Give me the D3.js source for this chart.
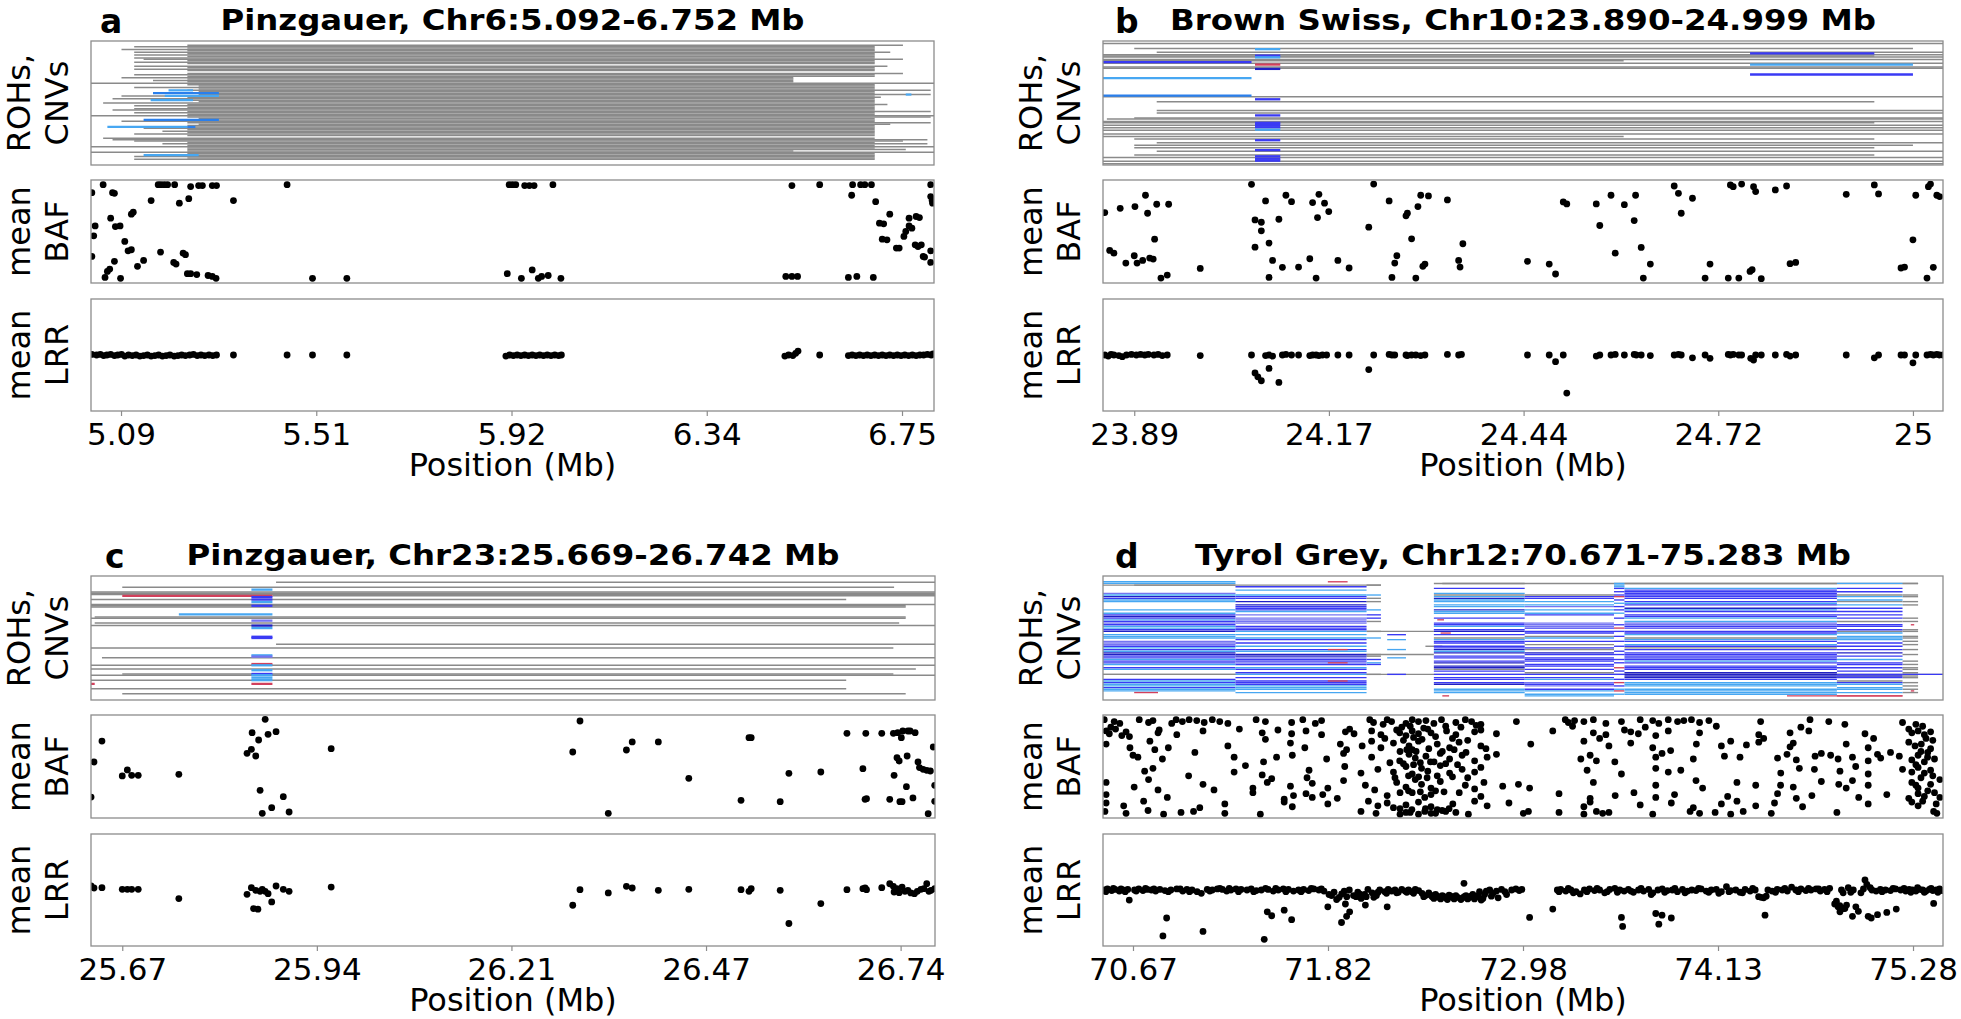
<!DOCTYPE html>
<html><head><meta charset="utf-8">
<script src="https://cdn.jsdelivr.net/npm/d3@7"></script>
<style>body{margin:0;background:#fff}svg{display:block}text{font-family:"DejaVu Sans",sans-serif}</style>
</head><body><svg id="c" width="1961" height="1019"></svg>
<script>
// ---------------- DATA ----------------
const panelLetters = ["a","b","c","d"];
const panelTitles = ["Pinzgauer, Chr6:5.092-6.752 Mb","Brown Swiss, Chr10:23.890-24.999 Mb","Pinzgauer, Chr23:25.669-26.742 Mb","Tyrol Grey, Chr12:70.671-75.283 Mb"];
const xDomainA = [5.0282, 6.8200], xDomainB = [23.8455, 25.0418], xDomainC = [25.6259, 26.7894], xDomainD = [70.4937, 75.4603];
const ticksA = [5.092,5.507,5.922,6.337,6.752], tickLabelsA = ["5.09","5.51","5.92","6.34","6.75"];
const ticksB = [23.890,24.16725,24.4445,24.72175,24.999], tickLabelsB = ["23.89","24.17","24.44","24.72","25"];
const ticksC = [25.669,25.93725,26.2055,26.47375,26.742], tickLabelsC = ["25.67","25.94","26.21","26.47","26.74"];
const ticksD = [70.671,71.824,72.977,74.130,75.283], tickLabelsD = ["70.67","71.82","72.98","74.13","75.28"];
const rowCounts = [88,100,100,75];

// ROH (gray) segments: [row, start, end]; CNV segments: [row, start, end, type]
const rohA = [[3,5.233,6.754],[4,5.120,6.694],[5,5.233,6.694],[6,5.093,6.694],[7,5.233,6.694],[8,5.120,6.727],[9,5.233,6.694],[10,5.120,6.694],[11,5.233,6.694],[12,5.120,6.694],[13,5.140,6.754],[14,5.233,6.694],[15,5.120,6.694],[16,5.233,6.694],
[18,5.120,6.721],[19,5.233,6.694],[20,5.120,6.694],[21,5.233,6.694],[23,5.233,6.754],[24,5.120,6.694],[25,5.233,6.694],[26,5.093,6.521],[27,5.233,6.521],[28,5.160,6.521],[29,5.233,6.521],[30,4.9,7.0],
[31,5.233,6.694],[32,5.257,6.694],[33,5.120,6.694],[34,5.257,6.694],[35,5.233,6.813],[36,5.257,6.694],[37,5.233,6.694],[38,5.257,6.813],[39,5.093,6.694],[40,5.233,6.707],[41,5.074,6.694],[42,5.233,6.694],[43,5.257,6.694],[44,5.054,6.694],[45,5.233,6.721],[46,5.120,6.694],[47,5.233,6.694],[48,5.120,6.694],[49,5.074,6.694],[50,5.233,6.813],[51,5.120,6.694],[52,5.233,6.694],[53,4.9,7.0],
[54,5.233,6.813],[55,5.257,6.694],[56,5.233,6.694],[57,5.093,6.694],[58,5.233,6.813],[59,5.257,6.727],[60,5.233,6.694],[61,5.233,6.694],[62,5.140,6.694],[63,5.233,6.694],[64,5.180,6.694],[65,5.233,6.694],[66,5.120,6.694],[67,5.233,6.694],
[69,5.054,6.694],[70,5.074,6.806],[71,5.120,6.754],[72,5.233,6.694],[73,5.180,6.806],[74,5.233,6.694],[75,4.9,7.0],[76,5.233,6.694],[77,5.233,6.760],[78,5.233,6.521],[79,4.9,7.0],[80,5.233,6.694],[81,5.233,6.694],[82,5.120,6.694],[83,5.233,6.694],[84,5.120,6.694]];
const cnvA = [[35,5.193,5.245,"l"],[37,5.160,5.300,"s"],[39,5.185,5.300,"l"],[42,5.155,5.245,"l"],[56,5.140,5.300,"s"],[61,5.063,5.233,"l"],[61,5.233,5.250,"s"],[81,5.140,5.257,"l"],[38,6.760,6.772,"l"]];

const rohB = [[2,23.7,25.2],[6,23.890,24.999],[9,23.922,25.2],[11,23.7,25.2],[12,23.7,24.944],[13,23.7,25.2],[15,23.7,25.2],[16,23.7,24.587],[18,23.7,25.2],[21,23.7,25.2],[22,23.7,25.2],[45,23.7,25.2],[49,23.922,24.944],[56,23.922,25.2],[58,23.922,25.2],[62,23.890,25.2],[63,23.851,25.2],[65,23.7,25.2],[66,23.7,24.944],[68,23.7,25.2],[70,23.7,25.2],[72,23.7,25.2],[75,23.7,25.2],[77,23.7,24.587],[79,23.890,24.944],[82,23.922,25.2],[84,23.890,24.999],[86,23.890,24.944],[89,23.922,25.2],[92,23.890,24.944],[94,23.7,25.2],[97,23.7,25.2],[99,23.7,25.2]];
const cnvB = [[6.6,24.062,24.098,"l"],[10,24.767,24.944,"b"],[11.8,24.062,24.098,"b"],[13.2,24.062,24.098,"l"],[17,23.7,24.057,"b"],[19,24.062,24.098,"r"],[19,24.767,24.999,"l"],[22.5,24.062,24.098,"d"],[27,24.767,24.999,"b"],[30,23.7,24.057,"l"],[44,23.7,24.057,"s"],[47,24.062,24.098,"b"],[60,24.062,24.098,"b"],[66,24.062,24.098,"b"],[67.6,24.062,24.098,"b"],[69.5,24.062,24.098,"b"],[71.5,24.062,24.098,"l"],[80,24.062,24.098,"b"],[88,24.062,24.098,"b"],[93,24.062,24.098,"b"],[95,24.062,24.098,"b"],[96.5,24.062,24.098,"b"]];

const rohC = [[5,25.881,26.9],[9,25.669,26.733],[13,25.5,26.9],[14,25.5,26.9],[15,25.5,26.9],[16,25.876,26.9],[19,25.5,26.667],[23,25.5,26.9],[24,25.5,26.749],[25,25.5,26.749],[33,25.631,26.749],[34,25.5,26.749],[38,25.631,26.740],[40,25.5,26.9],[55,25.881,26.9],[58,25.5,26.732],[66,25.641,26.9],[72,25.5,26.9],[75,25.5,26.763],[79,25.669,26.732],[80,25.5,26.9],[84,25.5,26.667],[91,25.5,26.667],[95,25.669,26.749]];
const cnvC = [[11,25.847,25.876,"l"],[16,25.669,25.876,"r"],[17,25.847,25.876,"b"],[19,25.847,25.876,"b"],[21,25.847,25.876,"l"],[24,25.847,25.876,"b"],[31,25.747,25.876,"l"],[36,25.847,25.876,"m"],[40,25.847,25.876,"d"],[42,25.847,25.876,"l"],[49,25.847,25.876,"b"],[50,25.847,25.876,"b"],[64,25.847,25.876,"l"],[65,25.847,25.876,"m"],[71,25.847,25.876,"r"],[72,25.847,25.876,"l"],[76,25.847,25.876,"l"],[79,25.847,25.876,"b"],[80,25.847,25.876,"l"],[82,25.847,25.876,"l"],[84,25.847,25.876,"l"],[87,25.847,25.876,"r"],[87,25.5,25.631,"r"]];

// Panel d: segment boundaries and one code string per segment (one char per sample row)
const dRegions = [[70.45,71.277],[71.277,72.052],[72.052,72.137],[72.174,72.285],[72.45,72.987],[72.987,73.515],[73.515,73.577],[73.577,74.833],[74.833,75.221],[75.221,75.313]];
const dRowCodes = [
"...llg....mldbll....l.lbdblbmbllbd.lll.mmmblblddbblbbl.bl..g..blbllbll....",
"......b.l..lbb.d.dbbbl.m.mmmm.bbbl.l.lb.b.l.bl.ddmbbmb.lb.bl.b.bbblll.l....",
".....g.....l.g.g....l..b.b.g.....g...l.........gg.b.lb.....g...............",
"...................................b..l.....l....l.........b...............",
"....g..b..lgldll.ll.dll..b..bbl.bd.b.glbb.bbdld.bb.bd.ddgb.b.bb.bd..lll....",
"...........gbb.l.lm.l.lb....mmmb.bb.gl.b.g.bg.db.bbb.bb.b.gb.bl.mbm.bl.ll...",
"....lllb.b.br.b.l.b.b.l..b...b.r.b..b..b..b..b.b..b.b..r.b.b..b.r.b.lr.l...",
"....g..lbbbbbb.blb.dlb.bbl.lmmbb.bbl.glb.lbgb.bbbbblb.bbb.ddddb.lll.llll...",
"....l..b.b.gl.lg.l.b.b.b.b.g.bb.bgl.lll.b.b.b.d.b.l.bb.b.b.bdb.gbl.ll.l.r..",
"....g......gg..g.g.......g.g....gg..gg.g.g..g..g...g.g.gg.gggg..g.g.g.g....."];
const dExtraSegs = [[4,72.50,75.313,"g"],[5,70.678,72.137,"g"],[33,72.052,72.45,"g"],[42,72.40,72.50,"g"],[47,72.052,72.45,"g"],[59,70.3,75.6,"g"],[59,75.221,75.6,"b"],
[3,71.823,71.94,"r"],[44,71.823,71.94,"r"],[52,71.823,71.94,"r"],[63,71.823,71.94,"r"],[70,70.678,70.819,"r"],[72,74.538,75.221,"r"],[26,72.47,72.51,"r"],[34,72.49,72.55,"r"],[72,72.50,72.54,"r"],[29,75.27,75.29,"r"],[69,75.27,75.29,"r"]];

// mean BAF points [position Mb, value]
const bafA = [[5.054,1],[5.171,1],[5.177,1],[5.184,1],[5.191,1],[5.206,1],[5.240,0.98],[5.257,0.99],[5.265,0.99],[5.286,0.99],[5.295,0.99],[5.445,1],[5.917,1],[5.924,1],[5.931,1],[5.950,0.99],[5.960,0.99],[5.970,0.99],[6.010,1],[6.518,0.99],[6.577,1],[6.647,1],[6.664,1],[6.673,1],[6.687,1],[6.813,1],
[5.030,0.915],[5.074,0.915],[5.078,0.908],[5.156,0.830],[5.216,0.802],[5.236,0.851],[5.331,0.830],[6.645,0.887],[6.696,0.819],[6.813,0.873],[6.816,0.830],[6.817,0.802],
[5.070,0.642],[5.114,0.685],[5.118,0.706],[5.037,0.560],[5.080,0.553],[5.090,0.560],[6.726,0.685],[6.767,0.642],[6.782,0.660],[6.789,0.649],[6.704,0.589],[6.713,0.582],[6.767,0.560],[6.773,0.536],[6.760,0.500],[5.034,0.454],[6.756,0.447],
[5.100,0.394],[5.107,0.294],[5.114,0.305],[6.710,0.418],[6.720,0.411],[6.740,0.323],[6.746,0.323],[6.780,0.358],[6.786,0.340],[6.793,0.358],[6.813,0.294],
[5.030,0.234],[5.176,0.280],[5.224,0.269],[5.229,0.252],[5.204,0.170],[5.209,0.152],[6.797,0.234],[6.800,0.227],[6.813,0.170],[5.078,0.181],[5.140,0.191],[5.127,0.128],[5.068,0.099],[5.063,0.074],
[5.058,0.01],[5.091,0],[5.233,0.05],[5.240,0.05],[5.253,0.04],[5.277,0.03],[5.286,0.02],[5.294,0],[5.499,0],[5.572,0],[5.913,0.05],[5.943,0],[5.966,0.09],[5.979,0],[5.986,0.02],[6.000,0.03],[6.027,0],[6.505,0.02],[6.518,0.02],[6.530,0.02],[6.638,0.01],[6.656,0.02],[6.691,0.01]];
const bafB = [[23.848,0.702],[23.870,0.748],[23.891,0.766],[23.906,0.887],[23.909,0.695],[23.922,0.791],[23.939,0.791],[23.855,0.298],[23.861,0.269],[23.878,0.163],[23.890,0.241],[23.894,0.163],[23.902,0.191],[23.912,0.216],[23.917,0.206],[23.919,0.418],[23.928,0.003],[23.937,0.035],[23.984,0.106],
[24.057,1.004],[24.077,0.826],[24.062,0.624],[24.071,0.599],[24.071,0.507],[24.096,0.631],[24.106,0.887],[24.114,0.819],[24.082,0.376],[24.062,0.333],[24.087,0.191],[24.101,0.117],[24.082,0.010],
[24.124,0.120],[24.140,0.209],[24.144,0.809],[24.151,0.649],[24.153,0.897],[24.161,0.802],[24.167,0.713],[24.149,0.003],[24.180,0.191],[24.196,0.110],
[24.224,0.546],[24.231,1.007],[24.253,0.826],[24.257,0.010],[24.261,0.163],[24.264,0.241],[24.277,0.667],[24.279,0.695],[24.285,0.422],[24.291,0.003],[24.294,0.766],[24.298,0.887],[24.301,0.128],[24.304,0.152],[24.309,0.880],[24.336,0.837],[24.352,0.191],[24.354,0.120],[24.358,0.369],
[24.450,0.181],[24.481,0.152],[24.490,0.046],[24.501,0.816],[24.506,0.794],[24.548,0.794],[24.553,0.564],[24.569,0.887],[24.575,0.269],[24.588,0.787],[24.602,0.617],[24.604,0.887],[24.612,0.330],[24.615,0.003],[24.625,0.152],
[24.659,0.986],[24.665,0.908],[24.669,0.695],[24.685,0.855],[24.703,0.003],[24.710,0.152],[24.736,0.003],[24.739,0.997],[24.743,0.979],[24.751,0.003],[24.755,1.007],[24.767,0.074],[24.770,0.092],[24.772,0.979],[24.775,0.926],[24.783,-0.004],[24.803,0.944],[24.819,0.986],[24.824,0.156],[24.832,0.170],
[24.904,0.897],[24.944,0.997],[24.950,0.901],[24.982,0.110],[24.987,0.120],[24.999,0.411],[25.003,0.887],[25.019,0.003],[25.021,0.979],[25.024,1.007],[25.028,0.117],[25.033,0.887],[25.037,0.873]];
const bafC = [[25.626,0.174],[25.630,0.548],[25.641,0.772],[25.669,0.399],[25.676,0.463],[25.682,0.406],[25.691,0.406],[25.747,0.416],
[25.841,0.641],[25.847,0.683],[25.848,0.861],[25.853,0.612],[25.857,0.783],[25.859,0.246],[25.862,0.000],[25.866,1.004],[25.870,0.844],[25.875,0.060],[25.881,0.872],[25.891,0.178],[25.899,0.014],[25.957,0.690],
[26.290,0.655],[26.300,0.986],[26.339,0.000],[26.364,0.676],[26.372,0.762],[26.408,0.762],[26.450,0.374],[26.522,0.139],[26.533,0.808],[26.536,0.808],[26.576,0.124],[26.588,0.427],[26.632,0.441],
[26.668,0.854],[26.690,0.477],[26.693,0.149],[26.695,0.156],[26.694,0.854],[26.716,0.854],[26.727,0.149],[26.732,0.854],[26.733,0.406],[26.737,0.594],[26.738,0.861],[26.740,0.559],[26.741,0.124],[26.744,0.124],[26.743,0.808],[26.745,0.879],[26.750,0.285],[26.751,0.612],[26.752,0.879],[26.755,0.879],[26.759,0.164],[26.762,0.861],[26.766,0.548],[26.768,0.488],[26.773,0.470],[26.778,0.459],[26.780,-0.004],[26.783,0.452],[26.787,0.708],[26.789,0.299],[26.789,0.128]];
const bafD = [
[70.501,1.0],[70.560,0.98],[70.593,0.96],[70.708,1.0],[70.763,0.97],[70.789,0.99],[70.900,0.96],[70.926,1.0],[70.963,0.98],[71.003,1.0],[71.048,0.99],[71.092,0.97],[71.140,1.0],[71.184,0.98],[71.232,0.96],[71.399,1.0],[71.454,0.98],[71.609,0.97],[71.675,1.0],[71.749,0.96],[71.786,0.99],[72.071,1.0],[72.093,0.97],[72.174,1.0],[72.200,0.98],[72.285,0.96],[72.322,1.0],[72.359,0.98],[72.403,0.99],[72.495,1.0],[72.580,0.97],[72.636,1.0],[72.673,0.98],[72.728,0.95],[72.938,0.98],[73.227,1.0],[73.245,0.97],[73.282,0.99],[73.337,0.98],[73.393,1.0],[73.467,0.96],[73.559,0.98],[73.670,1.0],[73.744,0.99],[73.780,0.96],[73.836,1.0],[73.891,0.98],[73.928,0.99],[73.973,1.0],[74.021,0.97],[74.076,0.99],[74.382,0.98],[74.674,1.0],[74.785,0.98],[75.221,0.97],
[70.512,0.88],[70.531,0.85],[70.568,0.90],[70.605,0.83],[70.630,0.87],[70.819,0.86],[70.826,0.89],[70.930,0.84],[71.085,0.88],[71.435,0.86],[71.528,0.89],[71.609,0.85],[71.694,0.88],[71.786,0.84],[71.927,0.87],[71.952,0.90],[71.978,0.85],[72.082,0.88],[72.137,0.84],[72.230,0.89],[72.248,0.86],[72.285,0.83],[72.322,0.88],[72.359,0.85],[72.414,0.90],[72.433,0.86],[72.525,0.88],[72.580,0.84],[72.691,0.87],[72.728,0.89],[72.820,0.85],[73.153,0.88],[73.393,0.86],[73.467,0.84],[73.577,0.89],[73.614,0.87],[73.659,0.85],[73.762,0.83],[73.836,0.88],[74.021,0.86],[74.371,0.84],[74.556,0.86],[74.667,0.88],[74.999,0.85],[75.258,0.90],[75.276,0.86],[75.313,0.88],[75.350,0.84],[75.387,0.87],
[70.512,0.74],[70.653,0.70],[70.771,0.77],[70.800,0.68],[71.232,0.72],[71.454,0.79],[71.602,0.75],[71.687,0.70],[71.897,0.74],[71.934,0.68],[72.026,0.72],[72.082,0.77],[72.137,0.70],[72.211,0.75],[72.303,0.72],[72.322,0.68],[72.359,0.77],[72.470,0.74],[72.543,0.70],[72.599,0.76],[72.728,0.72],[72.758,0.69],[73.023,0.74],[73.337,0.77],[73.485,0.72],[73.614,0.75],[73.744,0.70],[74.002,0.74],[74.150,0.72],[74.205,0.77],[74.298,0.73],[74.371,0.76],[74.556,0.71],[74.575,0.75],[74.888,0.74],[75.018,0.70],[75.258,0.76],[75.295,0.72],[75.332,0.74],[75.387,0.69],
[70.671,0.62],[70.845,0.58],[71.037,0.65],[71.269,0.60],[71.443,0.55],[71.613,0.62],[71.816,0.58],[71.916,0.64],[72.082,0.60],[72.248,0.56],[72.303,0.63],[72.340,0.59],[72.403,0.61],[72.451,0.55],[72.488,0.64],[72.543,0.58],[72.617,0.62],[72.691,0.56],[72.765,0.60],[72.820,0.63],[73.319,0.58],[73.374,0.62],[73.411,0.56],[73.762,0.60],[73.799,0.64],[73.984,0.58],[74.168,0.61],[74.482,0.59],[74.538,0.63],[74.593,0.57],[74.704,0.61],[74.741,0.64],[74.796,0.62],[74.840,0.58],[74.925,0.60],[75.018,0.56],[75.073,0.63],[75.092,0.59],[75.202,0.61],[75.276,0.57],[75.313,0.62],[75.369,0.60],
[70.789,0.48],[71.269,0.44],[71.336,0.51],[71.435,0.41],[71.712,0.46],[71.923,0.50],[72.019,0.43],[72.119,0.47],[72.211,0.44],[72.285,0.50],[72.322,0.42],[72.377,0.48],[72.414,0.45],[72.488,0.51],[72.543,0.43],[72.617,0.47],[72.691,0.44],[72.728,0.49],[73.356,0.46],[73.559,0.42],[73.762,0.48],[73.836,0.44],[73.910,0.46],[74.501,0.43],[74.611,0.48],[74.851,0.45],[74.944,0.50],[75.018,0.42],[75.221,0.47],[75.276,0.44],[75.313,0.49],[75.350,0.43],[75.387,0.46],
[70.512,0.33],[70.678,0.28],[70.763,0.36],[70.819,0.25],[71.085,0.31],[71.380,0.27],[71.465,0.33],[71.491,0.37],[71.602,0.29],[71.731,0.32],[71.823,0.27],[71.916,0.35],[72.045,0.30],[72.100,0.25],[72.230,0.33],[72.285,0.28],[72.340,0.36],[72.377,0.31],[72.433,0.27],[72.488,0.34],[72.636,0.30],[72.691,0.26],[72.746,0.33],[72.857,0.29],[72.950,0.31],[73.016,0.27],[73.393,0.33],[73.762,0.30],[74.039,0.27],[74.242,0.33],[74.353,0.30],[74.575,0.28],[74.741,0.34],[74.844,0.31],[74.888,0.27],[74.925,0.35],[75.018,0.30],[75.276,0.33],[75.313,0.27],[75.387,0.31],[75.442,0.36],
[70.512,0.20],[70.874,0.17],[71.380,0.22],[71.565,0.15],[71.620,0.19],[71.694,0.21],[71.731,0.17],[71.793,0.20],[71.879,0.16],[72.174,0.19],[72.322,0.22],[72.396,0.17],[72.433,0.20],[72.728,0.18],[73.190,0.21],[73.374,0.16],[73.522,0.19],[73.633,0.22],[73.762,0.17],[73.873,0.20],[74.187,0.18],[74.482,0.21],[74.593,0.16],[74.685,0.19],[74.962,0.17],[75.128,0.20],[75.258,0.16],[75.313,0.21],[75.350,0.18],[75.442,0.17],
[70.512,0.11],[70.616,0.08],[70.734,0.13],[71.066,0.06],[71.214,0.10],[71.565,0.12],[71.613,0.07],[71.823,0.10],[72.063,0.13],[72.119,0.08],[72.174,0.11],[72.211,0.06],[72.285,0.09],[72.359,0.12],[72.433,0.07],[72.562,0.10],[72.691,0.13],[72.765,0.08],[72.894,0.11],[73.337,0.07],[73.374,0.12],[73.670,0.09],[73.854,0.11],[73.984,0.06],[74.150,0.10],[74.242,0.13],[74.353,0.08],[74.464,0.11],[74.630,0.07],[75.018,0.10],[75.276,0.12],[75.313,0.08],
[70.505,0.02],[70.630,0.00],[70.760,0.03],[70.852,-0.01],[70.955,0.01],[71.029,0.02],[71.214,0.00],[71.424,-0.01],[72.019,0.02],[72.108,0.00],[72.285,0.01],[72.359,-0.01],[72.396,0.02],[72.433,0.00],[72.499,0.03],[72.580,0.01],[72.654,-0.01],[72.979,0.00],[73.009,0.02],[73.190,0.01],[73.337,-0.01],[73.411,0.02],[73.448,0.00],[73.485,0.01],[73.744,-0.01],[73.965,0.02],[74.021,0.00],[74.113,0.01],[74.205,-0.01],[74.279,0.02],[74.445,0.00],[74.833,0.01],[75.405,0.02],[75.424,0.00],
[72.150,0.95],[72.260,0.92],[72.310,0.93],[72.390,0.91],[72.450,0.96],[72.520,0.93],[72.610,0.92],[72.700,0.94],[72.160,0.80],[72.270,0.78],[72.330,0.81],[72.380,0.79],[72.460,0.82],[72.560,0.80],[72.650,0.78],[72.250,0.66],[72.290,0.68],[72.345,0.66],[72.420,0.69],[72.500,0.66],[72.570,0.68],[72.640,0.65],[72.190,0.54],[72.270,0.53],[72.330,0.52],[72.370,0.54],[72.430,0.55],[72.520,0.53],[72.590,0.52],[72.220,0.38],[72.300,0.40],[72.360,0.39],[72.410,0.38],[72.470,0.40],[72.560,0.39],[72.650,0.38],[72.250,0.22],[72.300,0.24],[72.370,0.23],[72.460,0.24],[72.510,0.23],[72.600,0.22],[72.250,0.05],[72.320,0.04],[72.400,0.05],[72.470,0.04],[72.540,0.05],[72.250,-0.01],[72.310,0.01],[72.460,0.00],[72.520,0.02],
[75.300,0.95],[75.340,0.93],[75.360,0.80],[75.400,0.78],[75.330,0.66],[75.370,0.65],[75.410,0.58],[75.300,0.52],[75.350,0.55],[75.400,0.40],[75.330,0.38],[75.370,0.24],[75.410,0.22],[75.300,0.30],[75.420,0.10],[75.340,0.13],
[70.540,0.92],[70.650,0.82],[70.700,0.60],[70.740,0.45],[70.880,0.70],[71.000,0.40],[71.150,0.25],[71.300,0.90],[71.520,0.60],[71.700,0.38],
[73.270,0.93],[73.430,0.80],[73.520,0.55],[73.700,0.92],[73.850,0.67],[74.000,0.35],[74.120,0.93],[74.260,0.60],[74.400,0.80],[74.500,0.30],[74.620,0.92],[74.700,0.47],[74.880,0.95],[75.050,0.80],[75.150,0.65]];

// mean LRR points [position Mb, value]
const lrrA = [[5.030,0.01],[5.040,0.0],[5.048,0.01],[5.055,-0.01],[5.062,0.0],[5.070,0.01],[5.078,-0.01],[5.085,0.0],[5.093,0.01],[5.100,-0.02],[5.108,0.0],[5.116,-0.01],[5.124,0.0],[5.132,-0.02],[5.140,-0.01],[5.148,0.0],[5.156,-0.02],[5.164,-0.01],[5.172,0.0],[5.180,-0.02],[5.188,-0.01],[5.196,0.0],[5.205,-0.02],[5.213,-0.01],[5.221,0.0],[5.229,-0.01],[5.238,0.0],[5.246,0.01],[5.254,-0.01],[5.262,0.0],[5.270,-0.01],[5.279,0.0],[5.287,-0.01],[5.295,0.0],[5.331,0.0],[5.445,0.0],[5.499,0.0],[5.572,0.0],
[5.910,-0.02],[5.918,0.0],[5.926,-0.01],[5.934,0.0],[5.942,-0.01],[5.950,0.0],[5.958,-0.01],[5.966,0.0],[5.974,-0.01],[5.982,0.0],[5.990,-0.01],[5.998,0.0],[6.006,-0.01],[6.014,0.0],[6.022,-0.01],[6.028,0.0],
[6.503,-0.02],[6.511,0.0],[6.520,-0.01],[6.526,0.03],[6.531,0.07],[6.577,0.0],
[6.638,-0.01],[6.646,0.0],[6.654,-0.01],[6.662,0.0],[6.670,-0.01],[6.678,0.0],[6.686,-0.01],[6.694,0.0],[6.702,-0.01],[6.710,0.0],[6.718,-0.01],[6.726,0.0],[6.734,-0.01],[6.742,0.0],[6.750,-0.01],[6.758,0.0],[6.766,-0.01],[6.774,0.0],[6.782,-0.01],[6.790,0.0],[6.798,0.0],[6.806,0.01],[6.814,0.0],[6.818,0.02]];
const lrrB = [[23.848,0.0],[23.853,-0.02],[23.857,0.01],[23.861,0.0],[23.868,-0.01],[23.873,-0.03],[23.879,0.0],[23.886,0.01],[23.893,0.0],[23.899,0.01],[23.905,0.0],[23.910,0.01],[23.918,0.0],[23.924,0.01],[23.930,-0.01],[23.937,0.0],[23.984,-0.01],[24.057,0.0],[24.077,-0.01],[24.082,0.0],[24.087,-0.02],[24.101,0.0],[24.106,0.01],[24.114,0.0],[24.124,0.0],[24.140,-0.01],[24.144,0.0],[24.149,0.0],[24.153,-0.01],[24.158,0.0],[24.164,0.0],[24.180,0.0],[24.196,0.0],[24.231,0.0],[24.253,0.01],[24.257,0.0],[24.261,0.0],[24.277,0.0],[24.279,-0.01],[24.285,0.0],[24.291,0.0],[24.298,-0.01],[24.304,0.0],[24.336,0.01],[24.352,0.0],[24.356,0.01],[24.450,0.0],[24.481,0.0],[24.490,-0.12],[24.501,0.0],[24.548,-0.02],[24.553,0.0],[24.569,0.0],[24.575,0.01],[24.588,0.0],[24.602,0.01],[24.605,0.0],[24.612,0.0],[24.625,-0.01],[24.659,0.0],[24.665,0.01],[24.669,0.0],[24.685,-0.05],[24.703,0.0],[24.710,-0.06],[24.736,0.01],[24.739,0.0],[24.743,0.01],[24.751,0.0],[24.755,0.0],[24.768,-0.06],[24.772,-0.09],[24.775,0.0],[24.783,0.0],[24.803,0.0],[24.819,0.01],[24.824,-0.02],[24.832,0.0],[24.904,0.0],[24.944,-0.05],[24.950,0.0],[24.982,0.0],[24.987,0.0],[24.999,-0.14],[25.003,0.0],[25.019,0.0],[25.024,0.01],[25.028,0.0],[25.033,0.01],[25.037,0.0],[25.042,0.0],
[24.062,-0.32],[24.066,-0.39],[24.071,-0.46],[24.082,-0.24],[24.096,-0.49],[24.224,-0.26],[24.506,-0.68]];
const lrrC = [[25.626,0.071],[25.630,0.036],[25.641,0.041],[25.669,0.012],[25.676,0.012],[25.682,0.012],[25.691,0.012],[25.747,-0.154],[25.841,-0.077],[25.847,0.041],[25.850,-0.331],[25.856,-0.343],[25.853,-0.006],[25.859,-0.024],[25.862,0.012],[25.866,-0.024],[25.870,-0.065],[25.875,-0.213],[25.881,0.071],[25.891,0.012],[25.899,-0.024],[25.957,0.053],[26.290,-0.272],[26.300,0.006],[26.339,-0.053],[26.364,0.065],[26.372,0.036],[26.408,-0.006],[26.450,0.012],[26.522,0.006],[26.533,-0.024],[26.536,0.024],[26.576,-0.006],[26.588,-0.598],[26.632,-0.243],[26.668,0.006],[26.690,0.024],[26.693,0.036],[26.695,0.006],[26.716,0.041],[26.727,0.112],[26.732,0.065],[26.733,-0.036],[26.737,0.024],[26.740,-0.047],[26.744,0.053],[26.748,-0.024],[26.752,-0.006],[26.756,-0.053],[26.761,-0.065],[26.765,-0.024],[26.770,0.012],[26.774,0.024],[26.778,0.112],[26.781,-0.024],[26.784,-0.006],[26.789,0.024]];
const lrrD = [[70.500,0.00],[70.520,0.02],[70.545,-0.01],[70.565,0.01],[70.590,-0.02],[70.612,0.00],[70.640,0.01],[70.680,0.00],[70.705,0.02],[70.730,-0.01],[70.755,0.01],[70.780,0.00],[70.805,-0.02],[70.830,0.01],[70.860,-0.01],[70.895,0.00],[70.930,0.02],[70.965,-0.02],[70.990,0.01],[71.020,0.00],[71.050,-0.03],[71.075,-0.06],[71.110,0.01],[71.140,0.00],[71.170,0.02],[71.200,0.01],[71.225,-0.02],[71.250,0.00],[71.280,0.02],[71.310,0.01],[71.345,0.00],[71.370,0.02],[71.400,-0.01],[71.430,0.00],[71.470,0.01],[71.500,-0.02],[71.530,0.00],[71.560,0.02],[71.590,0.01],[71.620,-0.02],[71.650,0.00],[71.680,0.01],[71.710,-0.01],[71.740,0.02],[71.770,0.00],[71.800,-0.02],[71.830,-0.08],[71.860,-0.04],[71.890,-0.13],[71.920,-0.02],[71.950,0.00],[71.975,-0.10],[72.000,-0.04],[72.020,-0.15],[72.040,-0.08],[72.060,0.01],[72.085,-0.05],[72.110,-0.10],[72.130,0.00],[72.160,-0.03],[72.180,0.01],[72.200,-0.02],[72.220,0.00],[72.240,-0.04],[72.260,0.01],[72.280,-0.02],[72.300,0.00],[72.320,-0.03],[72.340,0.01],[72.360,-0.01],[72.380,-0.06],[72.400,-0.10],[72.420,-0.05],[72.440,-0.12],[72.460,-0.08],[72.480,-0.13],[72.500,-0.10],[72.520,-0.14],[72.540,-0.09],[72.560,-0.13],[72.580,-0.10],[72.620,-0.14],[72.640,-0.10],[72.660,-0.13],[72.680,-0.08],[72.700,-0.12],[72.720,-0.03],[72.740,-0.15],[72.760,-0.02],[72.780,0.00],[72.800,-0.06],[72.820,-0.02],[72.850,0.01],[72.880,-0.08],[72.910,0.00],[72.935,0.02],[72.955,-0.01],[72.970,0.01],
[73.180,0.00],[73.200,0.01],[73.230,-0.02],[73.260,0.00],[73.290,-0.03],[73.315,-0.07],[73.340,0.00],[73.370,0.02],[73.400,-0.01],[73.430,0.00],[73.460,-0.05],[73.490,0.01],[73.520,0.03],[73.550,0.00],[73.575,-0.02],[73.600,0.01],[73.630,-0.04],[73.660,0.00],[73.690,-0.02],[73.720,0.01],[73.745,-0.05],[73.775,0.00],[73.800,0.02],[73.830,-0.01],[73.860,0.00],[73.890,-0.03],[73.920,0.01],[73.950,-0.02],[73.975,0.00],[74.000,-0.01],[74.030,0.02],[74.060,-0.02],[74.090,0.00],[74.120,0.01],[74.150,-0.03],[74.180,0.06],[74.205,-0.01],[74.235,0.00],[74.260,-0.04],[74.290,0.01],[74.320,-0.02],[74.350,0.00],[74.370,-0.12],[74.400,-0.14],[74.425,0.00],[74.450,-0.02],[74.480,0.01],[74.510,0.00],[74.540,-0.02],[74.565,0.05],[74.590,0.00],[74.620,0.02],[74.650,-0.01],[74.680,0.00],[74.710,0.02],[74.735,-0.02],[74.760,0.01],[74.790,0.03],[74.820,-0.25],[74.840,-0.30],[74.860,0.00],[74.880,-0.33],[74.900,0.04],[74.930,0.00],[74.960,-0.38],[74.990,0.02],[75.010,0.10],[75.040,0.00],[75.065,-0.02],[75.090,0.01],[75.120,0.00],[75.150,-0.01],[75.180,0.02],[75.210,0.00],[75.240,-0.02],[75.260,0.01],[75.280,0.00],[75.300,-0.02],[75.320,0.01],[75.340,0.00],[75.360,-0.02],[75.380,0.01],[75.400,-0.01],[75.420,0.00],[75.440,0.02],[75.455,-0.01],
[70.510,-0.03],[70.555,0.03],[70.600,0.02],[70.625,-0.03],[70.690,-0.02],[70.745,0.03],[70.795,0.02],[70.880,-0.03],[70.950,0.02],[71.005,-0.03],[71.125,-0.02],[71.185,0.03],[71.240,0.03],[71.295,-0.03],[71.385,-0.03],[71.455,0.03],[71.515,0.03],[71.575,-0.03],[71.665,-0.03],[71.725,0.03],[71.785,0.02],[71.845,-0.10],[71.875,-0.17],[71.905,-0.07],[71.935,-0.12],[71.990,-0.12],[72.010,-0.07],[72.050,-0.12],[72.095,-0.13],[72.120,-0.04],[72.170,-0.06],[72.230,-0.05],[72.290,-0.04],[72.330,-0.06],[72.390,-0.12],[72.430,-0.09],[72.450,-0.15],[72.470,-0.11],[72.490,-0.16],[72.510,-0.12],[72.530,-0.17],[72.550,-0.11],[72.570,-0.16],[72.590,-0.13],[72.610,-0.17],[72.630,-0.12],[72.650,-0.16],[72.670,-0.11],[72.690,-0.16],[72.710,-0.10],[72.730,-0.18],[72.750,-0.08],[72.790,-0.11],[72.830,-0.14],[72.870,-0.03],[73.190,-0.03],[73.245,0.03],[73.275,-0.05],[73.355,-0.03],[73.415,0.03],[73.475,-0.03],[73.535,-0.04],[73.615,-0.02],[73.675,0.03],[73.735,-0.08],[73.815,-0.04],[73.875,0.03],[73.935,-0.05],[74.015,0.03],[74.075,-0.04],[74.135,-0.06],[74.195,-0.03],[74.275,-0.05],[74.335,0.03],[74.385,-0.13],[74.415,-0.11],[74.470,-0.04],[74.525,0.03],[74.605,-0.03],[74.665,0.03],[74.725,0.02],[74.775,-0.03],[74.830,-0.20],[74.850,-0.28],[74.870,-0.05],[74.890,-0.27],[74.915,-0.04],[74.945,-0.30],[74.975,-0.05],[75.030,0.04],[75.100,-0.03],[75.165,0.03],[75.230,0.03],[75.270,-0.04],[75.310,0.04],[75.350,-0.04],[75.390,0.03],[75.430,-0.04],
[70.649,-0.18],[70.870,-0.50],[70.848,-0.82],[71.085,-0.74],[71.447,-0.88],[71.465,-0.39],[71.491,-0.46],[71.609,-0.53],[71.565,-0.36],[71.823,-0.30],[71.904,-0.58],[71.934,-0.47],[71.952,-0.39],[71.927,-0.25],[72.045,-0.27],[72.174,-0.30],[72.628,0.12],[73.016,-0.49],[73.153,-0.34],[73.559,-0.49],[73.566,-0.65],[73.780,-0.61],[73.762,-0.42],[73.799,-0.45],[73.854,-0.50],[74.408,-0.45],[74.851,-0.39],[74.870,-0.33],[74.925,-0.47],[75.018,-0.47],[75.036,-0.50],[75.073,-0.44],[75.128,-0.40],[75.184,-0.34],[74.999,0.18],[75.405,-0.24]];

// ---------------- DRAWING ----------------
const COL = {g:"#8a8a8a", l:"#47a7f2", s:"#2a7fec", b:"#3a3af4", d:"#2020c4", m:"#7575f2", r:"#d2405c"};
const svg = d3.select("#c");
const defs = svg.append("defs");

// build panel d segments from region codes
const segD = [];
dRegions.forEach((reg, k) => {
  const codes = dRowCodes[k];
  for (let i = 0; i < codes.length; i++) {
    const c = codes[i];
    if (c !== ".") segD.push([i + 0.5, reg[0], reg[1], c]);
  }
});
dExtraSegs.forEach(s => segD.push([s[0] + 0.5, s[1], s[2], s[3]]));
const rohD = segD.filter(s => s[3] === "g").map(s => [s[0], s[1], s[2]]);
const cnvD = segD.filter(s => s[3] !== "g");

const panels = [
  {xd: xDomainA, ticks: ticksA, labels: tickLabelsA, roh: rohA, cnv: cnvA, baf: bafA, lrr: lrrA, left: 91, right: 934, dy: 0, lx: 100, tw: 584, rw: 1.5, cw: 2.2},
  {xd: xDomainB, ticks: ticksB, labels: tickLabelsB, roh: rohB, cnv: cnvB, baf: bafB, lrr: lrrB, left: 1103, right: 1943, dy: 0, lx: 1115, tw: 706, rw: 1.5, cw: 2.3},
  {xd: xDomainC, ticks: ticksC, labels: tickLabelsC, roh: rohC, cnv: cnvC, baf: bafC, lrr: lrrC, left: 91, right: 935, dy: 535, lx: 105, tw: 653, rw: 1.5, cw: 2.3},
  {xd: xDomainD, ticks: ticksD, labels: tickLabelsD, roh: rohD, cnv: cnvD, baf: bafD, lrr: lrrD, left: 1103, right: 1943, dy: 535, lx: 1115, tw: 656, rw: 1.4, cw: 1.35}
];

panels.forEach((p, idx) => {
  const g = svg.append("g");
  const x = d3.scaleLinear().domain(p.xd).range([p.left, p.right]);
  const boxes = {roh: [41 + p.dy, 165 + p.dy], baf: [180 + p.dy, 283 + p.dy], lrr: [299 + p.dy, 411 + p.dy]};
  const cx = (p.left + p.right) / 2;

  Object.entries(boxes).forEach(([k, b]) => {
    defs.append("clipPath").attr("id", `clip${idx}${k}`).append("rect")
      .attr("x", p.left).attr("y", b[0]).attr("width", p.right - p.left).attr("height", b[1] - b[0]);
  });

  // ROH / CNV panel
  const yR = d3.scaleLinear().domain([0, rowCounts[idx]]).range(boxes.roh);
  const gr = g.append("g").attr("clip-path", `url(#clip${idx}roh)`);
  gr.selectAll("line.roh").data(p.roh).join("line").attr("class", "roh")
    .attr("x1", d => x(d[1])).attr("x2", d => x(d[2]))
    .attr("y1", d => yR(d[0])).attr("y2", d => yR(d[0]))
    .attr("stroke", COL.g).attr("stroke-width", p.rw);
  gr.selectAll("line.cnv").data(p.cnv).join("line").attr("class", "cnv")
    .attr("x1", d => x(d[1])).attr("x2", d => x(d[2]))
    .attr("y1", d => yR(d[0])).attr("y2", d => yR(d[0]))
    .attr("stroke", d => COL[d[3]]).attr("stroke-width", p.cw);

  // BAF
  const yB = d3.scaleLinear().domain([-0.05, 1.05]).range([boxes.baf[1], boxes.baf[0]]);
  g.append("g").attr("clip-path", `url(#clip${idx}baf)`)
    .selectAll("circle").data(p.baf).join("circle")
    .attr("cx", d => x(d[0])).attr("cy", d => yB(d[1])).attr("r", 3.4).attr("fill", "#000");

  // LRR
  const yL = d3.scaleLinear().domain([-1, 1]).range([boxes.lrr[1], boxes.lrr[0]]);
  g.append("g").attr("clip-path", `url(#clip${idx}lrr)`)
    .selectAll("circle").data(p.lrr).join("circle")
    .attr("cx", d => x(d[0])).attr("cy", d => yL(d[1])).attr("r", 3.4).attr("fill", "#000");

  // frames
  Object.values(boxes).forEach(b => {
    g.append("rect").attr("x", p.left).attr("y", b[0]).attr("width", p.right - p.left).attr("height", b[1] - b[0])
      .attr("fill", "none").attr("stroke", "#8c8c8c").attr("stroke-width", 1.3);
  });

  // x axis
  const ax = g.append("g").attr("transform", `translate(0,${boxes.lrr[1]})`)
    .call(d3.axisBottom(x).tickValues(p.ticks).tickFormat((d, i) => p.labels[i]).tickSize(5).tickPadding(7));
  ax.select(".domain").remove();
  ax.selectAll(".tick line").attr("stroke", "#8c8c8c").attr("stroke-width", 1.2);
  ax.selectAll(".tick text").attr("font-size", 31).attr("fill", "#000").attr("font-family", "DejaVu Sans");

  g.append("text").attr("x", cx).attr("y", 476 + p.dy).attr("text-anchor", "middle")
    .attr("font-size", 32).text("Position (Mb)");

  // y labels
  const ylab = [["ROHs,", "CNVs", boxes.roh], ["mean", "BAF", boxes.baf], ["mean", "LRR", boxes.lrr]];
  ylab.forEach(([l1, l2, b]) => {
    const cy = (b[0] + b[1]) / 2;
    [[l1, p.left - 61], [l2, p.left - 23]].forEach(([t, bx]) => {
      g.append("text").attr("transform", `translate(${bx},${cy}) rotate(-90)`)
        .attr("text-anchor", "middle").attr("font-size", 32).text(t);
    });
  });

  // title and letter
  g.append("text").attr("x", cx).attr("y", 30 + p.dy).attr("text-anchor", "middle")
    .attr("font-size", 29).attr("font-weight", "bold")
    .attr("textLength", p.tw).attr("lengthAdjust", "spacingAndGlyphs").text(panelTitles[idx]);
  g.append("text").attr("x", p.lx).attr("y", 33 + p.dy).attr("font-size", 33).attr("font-weight", "bold").text(panelLetters[idx]);
});
</script></body></html>
